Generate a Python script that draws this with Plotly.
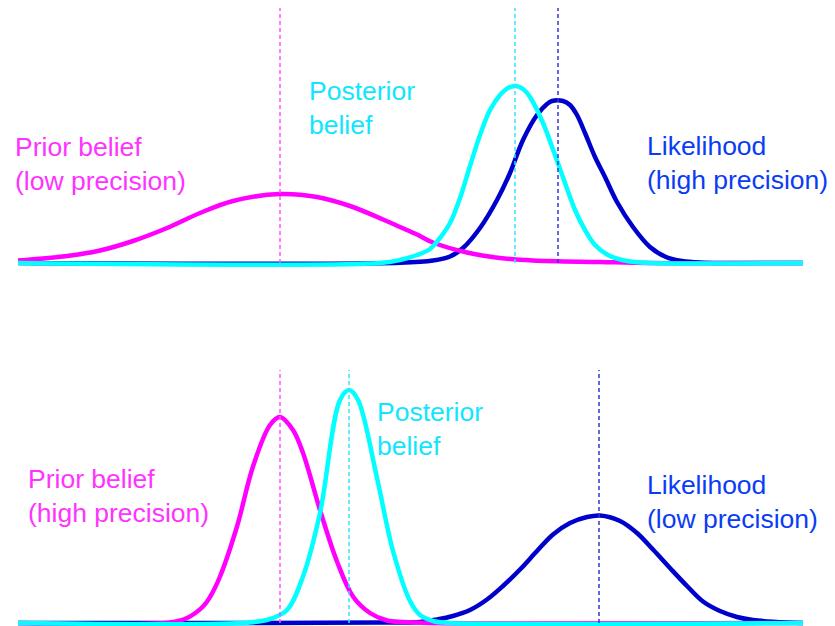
import plotly.graph_objects as go

# ---------------- data (x in horizontal chart units, h = height above baseline) -------------
# Top panel: prior (low precision), likelihood (high precision), posterior
top_prior_x = [18, 67, 100, 133, 167, 200, 233, 280, 317, 350, 383, 400, 417, 433, 467, 500, 533, 600, 650, 803]
top_prior_h = [2.5, 7, 12.5, 22, 35, 50, 62, 69, 66, 57, 43.5, 36, 28.5, 20.5, 10.5, 5, 2.5, 1, 0, 0]

top_like_x = [18, 400, 433, 450, 463, 480, 497, 510, 523, 537, 547, 552, 563, 570, 577, 585, 595, 605, 617, 633, 650, 666, 682, 700, 803]
top_like_h = [0, 0.3, 2.5, 6.5, 15, 35, 63, 90, 123, 148, 159, 162, 162, 158, 148, 130, 106, 86, 61, 36, 16, 6, 2, 0.5, 0]

top_post_x = [18, 380, 400, 417, 430, 440, 450, 460, 470, 480, 490, 500, 508, 516, 523, 530, 543, 555, 565, 575, 585, 595, 608, 622, 640, 803]
top_post_h = [0, 0, 3, 8, 14, 25, 40, 65, 97, 128, 153, 168, 175, 177, 174, 166, 140, 108, 80, 53, 33, 18, 8, 3, 0.5, 0]

# Bottom panel: prior (high precision), likelihood (low precision), posterior
bot_prior_x = [18, 170, 187, 203, 210, 220, 237, 253, 270, 280, 293, 303, 320, 337, 353, 370, 387, 403, 430, 803]
bot_prior_h = [0, 0.5, 5, 16.5, 26, 46.5, 96.5, 156.5, 198, 206, 193, 170, 113, 61.5, 26.5, 10, 2.5, 1, 0, 0]

bot_like_x = [18, 260, 380, 420, 437, 453, 470, 487, 503, 520, 537, 553, 570, 587, 600, 620, 637, 653, 670, 687, 703, 720, 737, 753, 787, 803]
bot_like_h = [0, 0, 0.5, 1, 3.5, 7, 13, 23.5, 37, 53.5, 72, 88.5, 100, 106, 107.5, 102, 90, 73.5, 55, 37, 21.5, 12, 6, 3, 0.5, 0]

bot_post_x = [18, 250, 270, 287, 303, 320, 340, 349, 358, 377, 393, 410, 420, 433, 450, 803]
bot_post_h = [0, 0.5, 4, 13, 46.5, 110, 223, 233, 223, 145, 72, 22, 8, 2, 0, 0]

# means (dashed markers) and dashed-line heights
top_means = {"prior": 280, "post": 515, "like": 558}
bot_means = {"prior": 280, "post": 349, "like": 599}
top_dash_h = 255
bot_dash_h = 253

labels_top = {
    "prior": "Prior belief<br>(low precision)",
    "post": "Posterior<br>belief",
    "like": "Likelihood<br>(high precision)",
}
labels_bot = {
    "prior": "Prior belief<br>(high precision)",
    "post": "Posterior<br>belief",
    "like": "Likelihood<br>(low precision)",
}

# ---------------- styles ----------------
C_CURVE = {"prior": "#ff00ff", "like": "#0000cc", "post": "#00ffff"}
C_DASH = {"prior": "#ff55ff", "like": "#3333dd", "post": "#33e5ff"}
C_TEXT = {"prior": "#ff33ff", "like": "#0a3cf5", "post": "#11e5ff"}
FONT = "Liberation Sans, Arial, Helvetica, sans-serif"

# page body has an 8px margin: figure occupies page pixels 8..835 / 8..626
PAGE_OFF = 8
W, H = 835 - PAGE_OFF, 626 - PAGE_OFF
SPLIT = (626 - 313) / H  # bottom panel covers page y 313..626

fig = go.Figure()

def add_curve(x, h, key, yaxis):
    fig.add_trace(go.Scatter(
        x=x, y=h, mode="lines", yaxis=yaxis,
        line=dict(color=C_CURVE[key], width=4.5, shape="spline", smoothing=1.0),
        hoverinfo="skip", showlegend=False,
    ))

def add_dash(xm, top, key, yaxis):
    fig.add_trace(go.Scatter(
        x=[xm, xm], y=[0, top], mode="lines", yaxis=yaxis,
        line=dict(color=C_DASH[key], width=1.5, dash="4px,3px"),
        hoverinfo="skip", showlegend=False,
    ))

# top panel (yaxis "y")
add_curve(top_like_x, top_like_h, "like", "y")
add_curve(top_prior_x, top_prior_h, "prior", "y")
add_curve(top_post_x, top_post_h, "post", "y")
for k in ("prior", "post", "like"):
    add_dash(top_means[k], top_dash_h, k, "y")

# bottom panel (yaxis "y2")
add_curve(bot_like_x, bot_like_h, "like", "y2")
add_curve(bot_prior_x, bot_prior_h, "prior", "y2")
add_curve(bot_post_x, bot_post_h, "post", "y2")
for k in ("prior", "post", "like"):
    add_dash(bot_means[k], bot_dash_h, k, "y2")

# text labels: (x-left, height of top of text box above baseline)
ann_top_pos = {"prior": (13, 133), "post": (307, 189), "like": (645, 134)}
ann_bot_pos = {"prior": (26, 161), "post": (375, 228), "like": (645, 155)}

annotations = []
for k, (ax, ay) in ann_top_pos.items():
    annotations.append(dict(x=ax, y=ay, xref="x", yref="y", text=labels_top[k],
                            showarrow=False, xanchor="left", yanchor="top", align="left",
                            font=dict(family=FONT, size=26.5, color=C_TEXT[k])))
for k, (ax, ay) in ann_bot_pos.items():
    annotations.append(dict(x=ax, y=ay, xref="x", yref="y2", text=labels_bot[k],
                            showarrow=False, xanchor="left", yanchor="top", align="left",
                            font=dict(family=FONT, size=26.5, color=C_TEXT[k])))

fig.update_layout(
    width=W, height=H,
    margin=dict(l=0, r=0, t=0, b=0),
    paper_bgcolor="white", plot_bgcolor="white",
    xaxis=dict(range=[PAGE_OFF, 835], visible=False, fixedrange=True),
    yaxis=dict(domain=[SPLIT, 1], range=[-50, 263 - PAGE_OFF], visible=False, fixedrange=True),
    yaxis2=dict(domain=[0, SPLIT], range=[-3, 310], visible=False, fixedrange=True),
    annotations=annotations,
    showlegend=False,
)

fig.write_html("out.html", config={"displayModeBar": False})
